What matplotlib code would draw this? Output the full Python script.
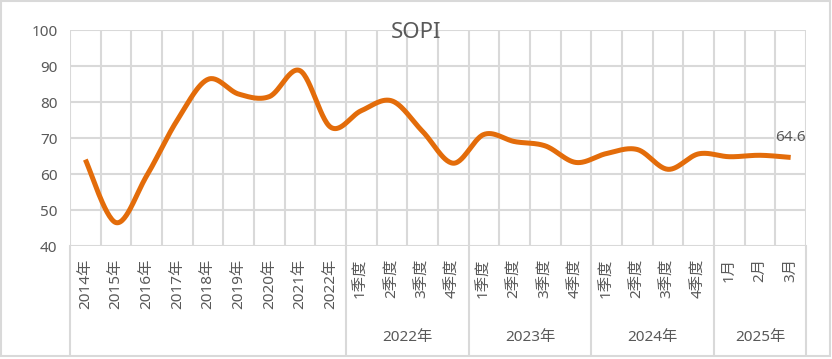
import numpy as np
import matplotlib
matplotlib.use("Agg")
import matplotlib.pyplot as plt
from matplotlib.transforms import blended_transform_factory
from matplotlib.patches import Rectangle
from matplotlib.lines import Line2D

plt.rcParams['font.family'] = ['Noto Sans', 'Noto Sans CJK SC', 'DejaVu Sans']

# ---- data ----
tick_labels = ['2014年', '2015年', '2016年', '2017年', '2018年', '2019年', '2020年', '2021年', '2022年',
               '1季度', '2季度', '3季度', '4季度',
               '1季度', '2季度', '3季度', '4季度',
               '1季度', '2季度', '3季度', '4季度',
               '1月', '2月', '3月']
values = [64.0, 46.5, 59.5, 75.0, 86.3, 82.2, 81.5, 88.7, 73.0,
          77.6, 80.3, 71.8, 63.0,
          71.0, 69.0, 67.8, 63.2,
          65.7, 66.8, 61.3, 65.6,
          64.8, 65.2, 64.6]
group_labels = ['2022年', '2023年', '2024年', '2025年']
group_sizes = [4, 4, 4, 3]
title = 'SOPI'
last_label = '64.6'

TXT = '#595959'
GRID = '#d9d9d9'
LINE = '#E36C0A'

W, H = 832, 359
fig = plt.figure(figsize=(W / 100, H / 100), dpi=100)
L, R, T, B = 70, 806, 30, 246
ax = fig.add_axes([L / W, (H - B) / H, (R - L) / W, (B - T) / H])

n = len(values)
x = np.arange(n, dtype=float)
y = np.array(values, dtype=float)

# Excel-like smoothing: cubic Bezier through points (Catmull-Rom style)
def smooth(xs, ys, steps=30):
    px, py = [], []
    for i in range(len(xs) - 1):
        p0 = (xs[i - 1], ys[i - 1]) if i > 0 else (xs[i], ys[i])
        p1 = (xs[i], ys[i])
        p2 = (xs[i + 1], ys[i + 1])
        p3 = (xs[i + 2], ys[i + 2]) if i + 2 < len(xs) else (xs[i + 1], ys[i + 1])
        c1 = (p1[0] + (p2[0] - p0[0]) / 6, p1[1] + (p2[1] - p0[1]) / 6)
        c2 = (p2[0] - (p3[0] - p1[0]) / 6, p2[1] - (p3[1] - p1[1]) / 6)
        t = np.linspace(0, 1, steps, endpoint=(i == len(xs) - 2))
        bx = (1 - t) ** 3 * p1[0] + 3 * (1 - t) ** 2 * t * c1[0] + 3 * (1 - t) * t ** 2 * c2[0] + t ** 3 * p2[0]
        by = (1 - t) ** 3 * p1[1] + 3 * (1 - t) ** 2 * t * c1[1] + 3 * (1 - t) * t ** 2 * c2[1] + t ** 3 * p2[1]
        px.extend(bx); py.extend(by)
    return np.array(px), np.array(py)

sx, sy = smooth(x, y)
ax.plot(sx, sy, color=LINE, lw=3.6, solid_capstyle='butt', zorder=3)

ax.set_xlim(-0.5, n - 0.5)
ax.set_ylim(40, 100)
ax.set_yticks(np.arange(40, 101, 10))
ax.set_xticks(x)
ax.set_xticklabels(tick_labels, rotation=90, va='top', ha='center')
ax.set_xticks(np.arange(-0.5, n, 1.0), minor=True)
ax.tick_params(axis='x', which='both', length=0, pad=9, labelsize=11, colors=TXT)
ax.tick_params(axis='y', length=0, pad=9, labelsize=11, colors=TXT)
ax.grid(True, axis='y', color=GRID, lw=1.5)
ax.grid(True, axis='x', which='minor', color=GRID, lw=1.5)
ax.grid(False, axis='x', which='major')
for s in ax.spines.values():
    s.set_visible(False)
ax.set_axisbelow(True)

# multi-level axis separators and group labels
tr = blended_transform_factory(ax.transData, ax.transAxes)
ybot = (B - 354) / (B - T)
bounds = [-0.5, 8.5]
start = 8.5
for sz in group_sizes:
    start += sz
    bounds.append(start)
for bx in bounds:
    ax.add_line(Line2D([bx, bx], [0, ybot], transform=tr, color=GRID, lw=1.5, clip_on=False))
start = 8.5
for gl, sz in zip(group_labels, group_sizes):
    ax.text(start + sz / 2, (B - 338) / (B - T), gl, transform=tr, ha='center', va='center',
            fontsize=11, color=TXT)
    start += sz

# data label
ax.annotate(last_label, (x[-1], y[-1]), xytext=(0, 20), textcoords='offset pixels',
            ha='center', va='center', fontsize=11, color=TXT)

fig.text(416 / W, (H - 33) / H, title, ha='center', va='center', fontsize=16, color=TXT)

fig.patches.append(Rectangle((1 / W, 3 / H), 829 / W, 355 / H, transform=fig.transFigure,
                             fill=False, edgecolor=GRID, lw=1.5))

fig.savefig('out.png', dpi=100)
